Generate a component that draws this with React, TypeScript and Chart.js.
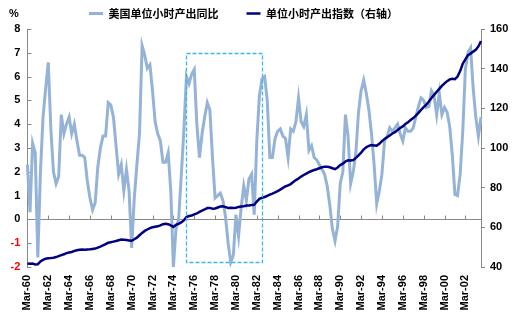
import React, { useEffect, useRef } from 'react';
import { Chart, registerables } from 'chart.js';

Chart.register(...registerables);

// ---- data ----
const quarterMonths = ['Mar', 'Jun', 'Sep', 'Dec'];
const firstYear = 1960;
const quarterCount = 175; // Mar-60 .. Sep-03
const categories: string[] = [];
for (let q = 0; q < quarterCount; q++) {
  const yr = (firstYear + Math.floor(q / 4)) % 100;
  categories.push(`${quarterMonths[q % 4]}-${String(yr).padStart(2, '0')}`);
}
const TICK_EVERY = 8;

const seriesNames = ['美国单位小时产出同比', '单位小时产出指数（右轴）'];

// 美国单位小时产出同比 (%), left axis
const yoy: number[] = [
  2.3, 0.3, 3.2, 2.8, -1.6, 2.0, 4.3, 5.5, 6.6, 3.8,
  2.0, 1.5, 1.8, 4.4, 3.6, 4.0, 4.3, 3.6, 4.0, 3.3,
  2.7, 2.7, 2.6, 1.6, 0.9, 0.4, 0.7, 2.2, 3.0, 3.5,
  3.5, 4.9, 4.8, 4.3, 3.1, 1.9, 2.3, 1.2, 2.1, 1.2,
  -1.2, 0.9, 2.3, 3.6, 7.3, 6.9, 6.35, 6.5, 5.4, 4.1,
  3.6, 3.3, 2.4, 2.4, 2.8, 1.2, -2.0, -0.4, 0.0, 1.8,
  3.7, 6.0, 5.7, 6.1, 6.3, 4.0, 2.6, 3.6, 4.3, 4.9,
  4.6, 2.6, 0.9, 1.0, 1.1, 0.8, 0.1, -1.0, -1.8, -1.5,
  0.2, -0.7, 0.5, 1.4, 0.8, 1.7, 1.9, 0.2, 3.3, 5.2,
  5.9, 6.0, 5.0, 2.6, 2.6, 3.4, 3.7, 3.8, 3.5, 3.4,
  2.6, 3.8, 3.7, 4.1, 5.1, 4.1, 3.9, 4.4, 2.9, 3.1,
  2.6, 2.5, 2.3, 2.1, 1.9, 1.4, 0.6, -0.4, -0.9, -0.3,
  1.5, 2.0, 4.4, 3.5, 1.5, 2.0, 2.8, 4.5, 5.4, 5.85,
  5.3, 4.6, 3.6, 2.3, 0.65, 1.2, 1.9, 3.3, 3.5, 3.85,
  3.7, 3.85, 4.0, 3.6, 3.3, 3.85, 3.7, 3.7, 3.85, 4.3,
  4.75, 5.1, 5.0, 4.7, 4.75, 5.4, 5.2, 4.4, 5.3, 4.4,
  4.7, 4.5, 3.9, 2.7, 1.05, 1.0, 1.9, 3.7, 6.3, 7.0,
  7.2, 5.5, 4.3, 3.5, 4.3,
];

// 单位小时产出指数, right axis
const productivityIndex: number[] = [
  41.8, 41.6, 41.7, 41.3, 41.4, 42.8, 43.6, 44.2, 44.4, 44.5,
  44.7, 45.0, 45.5, 46.0, 46.4, 47.0, 47.3, 47.6, 48.1, 48.4,
  48.7, 48.8, 48.7, 48.8, 48.9, 49.1, 49.3, 49.8, 50.3, 50.9,
  51.5, 52.2, 52.5, 52.8, 53.1, 53.5, 53.8, 53.7, 53.6, 53.4,
  53.2, 54.0, 54.8, 56.0, 57.2, 58.2, 58.9, 59.6, 60.0, 60.3,
  60.5, 61.0, 61.6, 61.8, 61.6, 61.0, 60.2, 61.3, 61.8, 62.5,
  63.5, 65.2, 65.7, 66.0, 66.5, 67.0, 67.8, 68.4, 69.0, 69.7,
  69.8, 69.4, 69.5, 70.0, 70.5, 70.6, 70.2, 69.8, 69.9, 69.7,
  69.9, 70.3, 70.5, 70.6, 71.0, 71.0, 71.3, 71.4, 73.0, 74.4,
  74.9, 75.3, 75.9, 76.5, 77.0, 77.6, 78.3, 79.0, 79.9, 80.6,
  81.2, 81.8, 82.8, 83.8, 84.6, 85.6, 86.4, 87.1, 87.8, 88.4,
  88.9, 89.3, 89.8, 90.3, 90.6, 90.5, 90.3, 89.8, 89.3, 90.2,
  91.4, 92.1, 93.2, 93.8, 93.7, 93.9, 95.0, 96.3, 97.6, 99.3,
  100.4, 101.1, 101.5, 101.3, 101.2, 102.1, 103.5, 104.5, 105.4, 106.3,
  107.3, 108.0, 109.1, 110.1, 110.9, 112.1, 113.0, 114.1, 115.1, 116.3,
  117.7, 119.2, 120.6, 121.8, 123.5, 125.2, 126.8, 128.3, 129.8, 131.3,
  132.6, 133.7, 134.6, 134.9, 134.7, 136.0, 138.8, 142.5, 144.7, 146.8,
  147.6, 148.6, 149.5, 151.2, 153.9,
];

// axis ranges
const leftRange = { min: -2, max: 8, step: 1 };
const rightRange = { min: 40, max: 160, step: 20 };

// highlighted period (dashed box)
const highlight = { from: 'Jun-75', to: 'Sep-82', top: 7, bottom: -1.8 };

// ---- styles ----
const LIGHT = '#95B3D7';
const NAVY = '#000080';
const AXIS = '#898989';
const BOX = '#3CB9EC';
const TICK_FONT = { family: '"Liberation Sans", Arial, sans-serif', size: 11, weight: 'bold' };

const decorPlugin = {
  id: 'decor',
  beforeDatasetsDraw(chart: any) {
    const { ctx, chartArea, scales } = chart;
    const x = scales.x;
    const y = scales.y;
    const y0 = Math.round(y.getPixelForValue(0)) + 0.5;
    ctx.save();
    ctx.strokeStyle = AXIS;
    ctx.lineWidth = 1;
    ctx.beginPath();
    for (let i = 0; i < categories.length; i += TICK_EVERY) {
      const px = Math.round(x.getPixelForValue(i)) + 0.5;
      ctx.moveTo(px, y0);
      ctx.lineTo(px, y0 - 4);
    }
    y.ticks.forEach((_t: any, idx: number) => {
      const py = Math.round(y.getPixelForTick(idx)) + 0.5;
      ctx.moveTo(chartArea.left, py);
      ctx.lineTo(chartArea.left + 4, py);
    });
    ctx.stroke();
    ctx.restore();
  },
  afterDatasetsDraw(chart: any) {
    const { ctx, scales } = chart;
    const x = scales.x;
    const y = scales.y;
    const x1 = x.getPixelForValue(categories.indexOf(highlight.from));
    const x2 = x.getPixelForValue(categories.indexOf(highlight.to));
    const yt = y.getPixelForValue(highlight.top);
    const yb = y.getPixelForValue(highlight.bottom);
    ctx.save();
    ctx.strokeStyle = BOX;
    ctx.lineWidth = 1.3;
    ctx.setLineDash([4, 2]);
    ctx.strokeRect(Math.round(x1) + 0.5, Math.round(yt) + 0.5, Math.round(x2 - x1), Math.round(yb - yt));
    ctx.restore();
  },
  afterDraw(chart: any) {
    const { ctx } = chart;
    ctx.save();
    ctx.font = `bold 11px ${TICK_FONT.family}`;
    ctx.fillStyle = '#000';
    ctx.textBaseline = 'middle';
    ctx.textAlign = 'left';
    ctx.fillText('%', 1, 6);
    ctx.restore();
  },
};

export default function App() {
  const ref = useRef<HTMLCanvasElement>(null);
  useEffect(() => {
    const chart = new Chart(ref.current as HTMLCanvasElement, {
      type: 'line',
      data: {
        labels: categories,
        datasets: [
          {
            label: seriesNames[0],
            data: yoy,
            yAxisID: 'y',
            borderColor: LIGHT,
            backgroundColor: LIGHT,
            borderWidth: 3,
            pointRadius: 0,
            pointStyle: 'line',
            tension: 0,
            order: 1,
          },
          {
            label: seriesNames[1],
            data: productivityIndex,
            yAxisID: 'y1',
            borderColor: NAVY,
            backgroundColor: NAVY,
            borderWidth: 2.5,
            pointRadius: 0,
            pointStyle: 'line',
            tension: 0,
            order: 0,
          },
        ],
      },
      options: {
        responsive: false,
        animation: false,
        layout: { padding: { top: -28, left: -31, right: 0, bottom: 0 } },
        plugins: {
          tooltip: { enabled: false },
          legend: {
            position: 'top',
            align: 'center',
            labels: {
              usePointStyle: true,
              pointStyleWidth: 14,
              padding: 28,
              color: '#000',
              font: { family: '"Noto Sans CJK SC", sans-serif', size: 11, weight: 'bold' },
              sort: (a: any, b: any) => a.datasetIndex - b.datasetIndex,
            },
          },
        },
        scales: {
          x: {
            type: 'category',
            offset: false,
            grid: { display: false, drawTicks: false },
            border: { display: false },
            ticks: {
              autoSkip: false,
              maxRotation: 90,
              minRotation: 90,
              padding: 8,
              color: '#000',
              font: TICK_FONT,
              callback: (_v: any, i: number) => (i % TICK_EVERY === 0 ? categories[i] : ''),
            },
            afterFit: (s: any) => {
              s.height = 47;
            },
          },
          y: {
            position: 'left',
            min: leftRange.min,
            max: leftRange.max,
            ticks: {
              stepSize: leftRange.step,
              padding: 7,
              font: TICK_FONT,
              color: (c: any) => (c.tick && c.tick.value < 0 ? '#FF0000' : '#000'),
            },
            grid: {
              drawTicks: false,
              lineWidth: 1,
              color: (c: any) => (c.tick && c.tick.value === 0 ? AXIS : 'rgba(0,0,0,0)'),
            },
            border: { color: AXIS, width: 1 },
            afterFit: (s: any) => {
              s.width = 50.4;
            },
          },
          y1: {
            position: 'right',
            min: rightRange.min,
            max: rightRange.max,
            ticks: { stepSize: rightRange.step, padding: 5, font: TICK_FONT, color: '#000' },
            grid: { drawOnChartArea: false, drawTicks: true, tickLength: 4, color: AXIS },
            border: { color: AXIS, width: 1 },
            afterFit: (s: any) => {
              s.width = 29;
            },
          },
        },
      },
      plugins: [decorPlugin],
    } as any);
    return () => chart.destroy();
  }, []);
  return (
    <div style={{ width: 502, height: 306 }}>
      <canvas ref={ref} width={502} height={306} style={{ display: 'block' }} />
    </div>
  );
}
